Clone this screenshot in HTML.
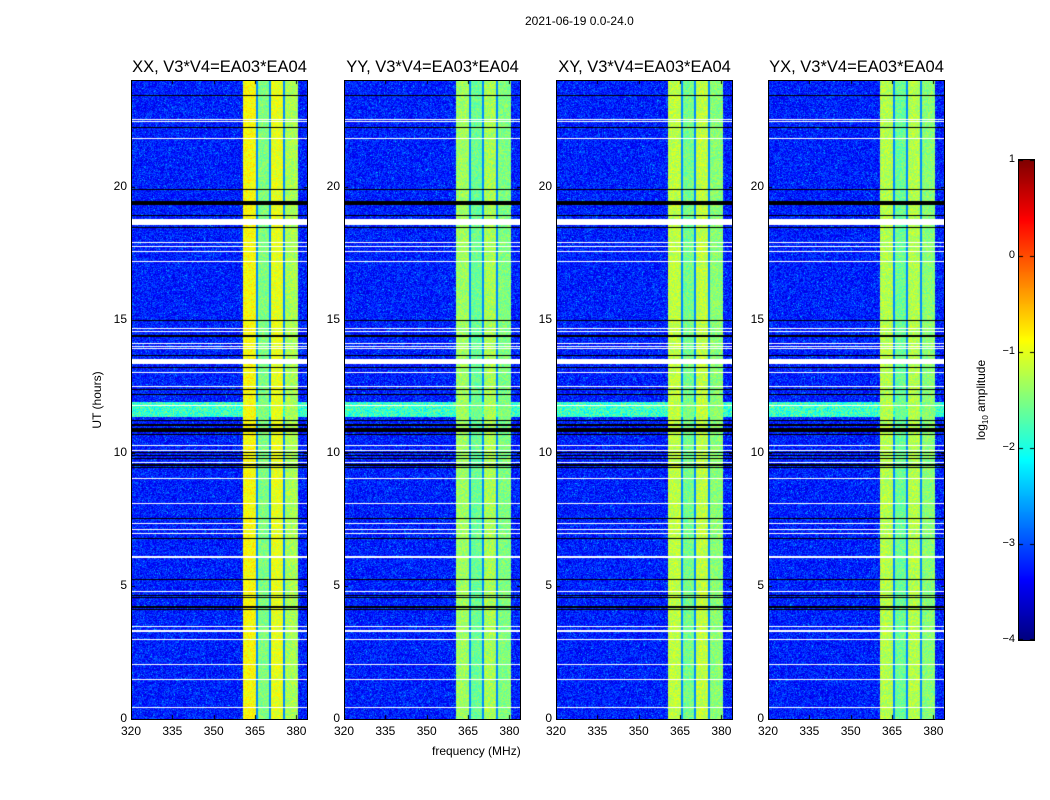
<!DOCTYPE html>
<html><head><meta charset="utf-8">
<style>
body{margin:0;background:#fff;width:1050px;height:800px;overflow:hidden;font-family:"Liberation Sans",sans-serif;}
#root{position:relative;width:1050px;height:800px;}
.t{position:absolute;font-size:12px;color:#000;white-space:nowrap;}
.title{position:absolute;font-size:16.5px;color:#000;white-space:nowrap;text-align:center;}
canvas{position:absolute;}
.frame{position:absolute;border:1px solid #000;box-sizing:border-box;pointer-events:none;}
</style></head>
<body><div id="root">
<div class="t" style="left:525px;top:14px;font-size:12px">2021-06-19 0.0-24.0</div>
<div class="t" style="left:97px;top:400px;transform:translate(-50%,-50%) rotate(-90deg)">UT (hours)</div>
<div class="t" style="left:432px;top:744px">frequency (MHz)</div>
<canvas id="cb" width="15" height="480" style="left:1019px;top:160px"></canvas>
<div class="frame" style="left:1018px;top:159px;width:17px;height:482px"></div>
<div class="t" style="left:982px;top:400px;transform:translate(-50%,-50%) rotate(-90deg)">log<sub style="font-size:8px">10</sub> amplitude</div>
</div>
<script>
// ---- data ----
const panelTitles = ["XX, V3*V4=EA03*EA04","YY, V3*V4=EA03*EA04","XY, V3*V4=EA03*EA04","YX, V3*V4=EA03*EA04"];
const xTicks = [320,335,350,365,380];
const yTicks = [0,5,10,15,20];
const cbTicks = [1,0,-1,-2,-3,-4];
const bandEdges = [360.6,365.4,370.4,375.2,380.3];   // MHz sub-band edges
const bandLevelXX = [-0.9,-1.5,-1.0,-1.3];
const bandLevelYY = [-1.35,-1.6,-1.3,-1.5];
const bandLevelXY = [-1.2,-1.55,-1.2,-1.45];
const bandLevelYX = [-1.25,-1.6,-1.25,-1.45];
const bgLevel = -3.25;
const whiteLines = [22.5,22.43,21.8,18.68,17.9,17.75,17.56,17.2,14.65,14.57,14.12,14.0,13.9,13.41,13.0,12.47,11.76,10.26,10.1,9.64,9.03,8.09,7.34,7.1,6.96,6.07,4.8,3.48,3.3,3.0,2.06,1.5,0.45];
const whiteWidths = [1,1,1,6,1,1,1,1,1,1,1,1,1,5,1,1,1,1,1,1,1,1,1,1,1,2,1,1,2,1,1,1,1];
const blackLines = [23.4,22.2,19.9,19.38,18.9,18.46,14.95,14.38,13.67,13.2,12.36,12.2,11.2,11.05,10.9,10.8,10.7,10.0,9.9,9.8,9.55,9.45,7.53,6.78,5.24,4.64,4.57,4.2,4.1];
const blackWidths = [1,1,1,4,1,1,1,2,1,1,1,1,1,2,2,2,1,1,1,1,2,1,1,1,1,1,1,2,1];
const brightBand = [11.35,11.9]; // full-frequency RFI hours
const levels = [bandLevelXX,bandLevelYY,bandLevelXY,bandLevelYX];
const panelLeft = [131,344,556,768];
// ---- axes ----
const W=177,H=639,TOP=80,F0=320,F1=384.2,T0=0,T1=24;
const xs=f=>(f-F0)/(F1-F0)*W, ys=h=>H-(h-T0)/(T1-T0)*H;
function jet(t){t=Math.max(0,Math.min(1,t));const c=v=>Math.round(255*Math.max(0,Math.min(1,v)));
 return [c(1.5-Math.abs(4*t-3)),c(1.5-Math.abs(4*t-2)),c(1.5-Math.abs(4*t-1))];}
const vt=v=>(v+4)/5;
function hash(a,b,c){let h=(a*374761393+b*668265263+c*2147483647)|0;h=(h^(h>>>13))*1274126177|0;return ((h^(h>>>16))>>>0)/4294967296;}
const root=document.getElementById('root');
levels.forEach((lv,p)=>{
 const L=panelLeft[p];
 const cv=document.createElement('canvas');cv.width=W;cv.height=H;cv.style.left=L+'px';cv.style.top=TOP+'px';
 
 
 root.appendChild(cv);
 const ctx=cv.getContext('2d');const img=ctx.createImageData(W,H);
 const bx=bandEdges.map(xs);
 for(let y=0;y<H;y++){const hr=T1-(y+0.5)/H*(T1-T0);
  const rfi=hr>brightBand[0]&&hr<brightBand[1];
  for(let x=0;x<W;x++){
   let v=bgLevel+(hash(x,y,p)-0.5)*0.7+(hash(x,y,p+7)>0.95?0.45:0);
   if(x>=bx[0]&&x<bx[4]){let k=0;while(k<3&&x>=bx[k+1])k++;
     v=lv[k]+(hash(x,y,p+3)-0.5)*0.5;
     for(let j=1;j<4;j++)if(Math.abs(x-bx[j])<1)v=-2.7;}
   if(rfi)v=Math.max(v,-1.85+(hash(x,y,p+5)-0.5)*0.9);
   const c=jet(vt(v));const i=(y*W+x)*4;img.data[i]=c[0];img.data[i+1]=c[1];img.data[i+2]=c[2];img.data[i+3]=255;}}
 ctx.putImageData(img,0,0);
 blackLines.forEach((h,i)=>{ctx.fillStyle='#000';ctx.fillRect(0,Math.round(ys(h)-blackWidths[i]/2),W,blackWidths[i]);});
 whiteLines.forEach((h,i)=>{ctx.fillStyle='#fff';ctx.fillRect(0,Math.round(ys(h)-whiteWidths[i]/2),W,whiteWidths[i]);});
 ctx.fillStyle='#000';
 xTicks.forEach(f=>{const x=Math.round(xs(f));ctx.fillRect(x,0,1,4);ctx.fillRect(x,H-4,1,4);});
 yTicks.forEach(h=>{const y=Math.round(ys(h));ctx.fillRect(0,y,4,1);ctx.fillRect(W-4,y,4,1);});
 const fr=document.createElement('div');fr.className='frame';
 fr.style.cssText=`left:${L}px;top:${TOP}px;width:${W}px;height:${H+1}px`;
 
 
 root.appendChild(fr);
 const tt=document.createElement('div');tt.className='title';tt.textContent=panelTitles[p];
 tt.style.cssText=`left:${L-30}px;width:${W+60}px;top:58px`;
 
 
 root.appendChild(tt);
 xTicks.forEach(f=>{const d=document.createElement('div');d.className='t';d.textContent=f;
  d.style.cssText=`left:${L+xs(f)-20}px;width:40px;text-align:center;top:724px`;
  
  
  root.appendChild(d);});
 yTicks.forEach(h=>{const d=document.createElement('div');d.className='t';d.textContent=h;
  d.style.cssText=`left:${L-44}px;width:40px;text-align:right;top:${TOP+ys(h)-8}px`;
  
  
  root.appendChild(d);});
});
// colorbar
const cb=document.getElementById('cb').getContext('2d');
for(let y=0;y<480;y++){const c=jet(1-(y+0.5)/480);cb.fillStyle=`rgb(${c})`;cb.fillRect(0,y,15,1);}
cbTicks.forEach(v=>{const y=160+(1-v)/5*480;
 const d=document.createElement('div');d.className='t';d.textContent=v<0?'\u2212'+(-v):v;
 d.style.cssText=`left:${975}px;width:40px;text-align:right;top:${y-7}px;font-size:11px`;
 
 
 root.appendChild(d);
 cb.fillStyle='#000';cb.fillRect(0,Math.min(479,Math.round(y-160)),4,1);cb.fillRect(11,Math.min(479,Math.round(y-160)),4,1);});
</script>
</body></html>
